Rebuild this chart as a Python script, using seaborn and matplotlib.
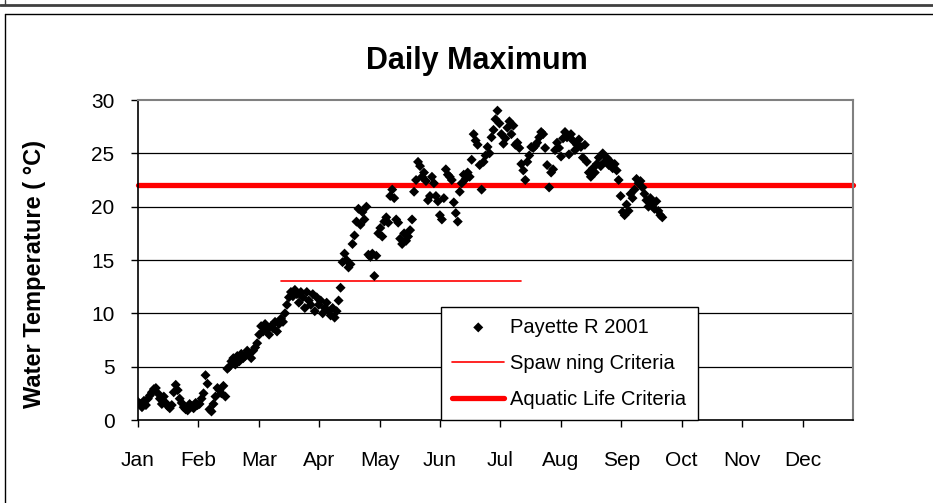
import numpy as np
import pandas as pd
import matplotlib
matplotlib.use('Agg')
import matplotlib.pyplot as plt
from matplotlib.lines import Line2D
import seaborn as sns

# daily maximum water temperature (deg C), Payette R 2001
jan_max = [1.7, 1.5, 1.2, 1.8, 1.4, 2.0, 2.3, 2.6, 2.9, 3.0, 2.5, 2.0, 1.5, 2.2, 1.6, 1.3,
           1.1, 1.4, 2.6, 3.3, 2.8, 2.0, 1.6, 1.2, 1.0, 0.9, 1.5, 1.3, 1.1, 1.6, 1.4]
feb_max = [1.5, 2.0, 2.5, 4.2, 3.4, 1.0, 0.8, 1.5, 2.2, 3.0, 2.8, 2.5, 3.2, 2.2, 4.8, 5.0,
           5.5, 5.8, 5.2, 6.0, 5.5, 6.2, 5.8, 6.0, 6.5, 6.2, 5.8, 6.5]
mar_max = [6.8, 7.2, 8.0, 8.8, 8.3, 9.0, 8.5, 8.0, 8.8, 8.6, 9.2, 8.3, 9.0, 9.5, 9.2, 10.0,
           10.8, 11.5, 12.0, 11.6, 12.2, 11.8, 11.0, 12.0, 11.5, 10.5, 12.0, 11.2, 10.8, 11.8, 10.2]
apr_max = [11.5, 10.8, 11.2, 10.0, 10.5, 11.0, 10.2, 9.8, 10.5, 9.6, 10.2, 11.2, 12.4, 14.8, 15.6,
           15.0, 14.3, 14.6, 16.5, 17.3, 18.6, 19.8, 18.3, 19.5, 18.8, 20.0, 15.5, 15.3, 15.6, 13.5]
may_max = [15.4, 17.5, 18.0, 17.2, 18.6, 19.0, 18.5, 21.0, 21.6, 20.8, 18.8, 18.5, 17.0, 16.5, 17.5,
           16.8, 17.2, 17.8, 18.8, 21.4, 22.5, 24.2, 23.8, 22.8, 23.2, 22.4, 20.6, 21.0, 22.8, 22.2, 21.0]
jun_max = [20.5, 19.2, 18.8, 20.8, 23.5, 23.0, 22.8, 22.5, 20.4, 19.4, 18.6, 21.4, 22.2, 23.0, 22.6,
           23.2, 22.8, 24.4, 26.8, 26.2, 25.8, 23.9, 21.6, 24.2, 24.8, 25.6, 25.0, 26.5, 27.2, 28.2]
jul_max = [29.0, 27.8, 26.8, 25.9, 26.4, 27.4, 28.0, 26.8, 27.6, 25.8, 26.0, 25.5, 24.0, 23.4, 22.5,
           24.2, 24.8, 25.6, 25.5, 25.7, 26.0, 26.5, 27.0, 26.8, 25.5, 23.9, 21.8, 23.2, 23.5, 25.3, 26.0]
aug_max = [25.5, 24.7, 26.4, 27.0, 26.5, 24.9, 26.8, 26.2, 25.3, 25.8, 26.3, 25.6, 24.6, 25.8, 24.2,
           23.2, 22.8, 23.6, 23.2, 24.0, 24.6, 23.8, 25.0, 24.2, 24.6, 23.9, 24.2, 23.6, 24.0, 23.4, 22.5]
sep_max = [21.0, 19.5, 19.2, 20.2, 19.6, 21.2, 20.8, 21.6, 22.6, 22.2, 22.4, 21.8, 21.2, 20.6, 20.0,
           20.8, 20.3, 19.8, 20.5, 19.6, 19.2, 19.0]

months = ['Jan', 'Feb', 'Mar', 'Apr', 'May', 'Jun', 'Jul', 'Aug', 'Sep', 'Oct', 'Nov', 'Dec']

# criteria
spawning_days = [72, 193]
spawning_temp = 13
aquatic_days = [0, 360]
aquatic_temp = 22

temps = jan_max + feb_max + mar_max + apr_max + may_max + jun_max + jul_max + aug_max + sep_max
df = pd.DataFrame({'day': np.arange(len(temps)), 'temp': temps})
spawn = pd.DataFrame({'day': spawning_days, 'temp': [spawning_temp] * 2})
aquatic = pd.DataFrame({'day': aquatic_days, 'temp': [aquatic_temp] * 2})

sns.set_theme(style='white')
plt.rcParams['font.family'] = ['Liberation Sans', 'DejaVu Sans']
plt.rcParams['text.color'] = 'black'
plt.rcParams['axes.labelcolor'] = 'black'
plt.rcParams['xtick.color'] = 'black'
plt.rcParams['ytick.color'] = 'black'

fig = plt.figure(figsize=(9.33, 5.03), dpi=100)
ax = fig.add_axes([138 / 933, 1 - 420 / 503, (853 - 138) / 933, 320 / 503])

sns.scatterplot(data=df, x='day', y='temp', marker='D', s=26, color='black',
                edgecolor='none', linewidth=0, ax=ax, label='Payette R 2001', zorder=3)
sns.lineplot(data=spawn, x='day', y='temp', color='#ff0000', linewidth=1.2, ax=ax,
             label='Spaw ning Criteria', zorder=2)
sns.lineplot(data=aquatic, x='day', y='temp', color='#ff0000', linewidth=3.8, ax=ax,
             label='Aquatic Life Criteria', zorder=2, clip_on=False)

ax.set_xlim(0, 360)
ax.set_ylim(0, 30)
ax.set_yticks(range(0, 31, 5))
ax.set_xticks(np.arange(12) * 365 / 12)
ax.set_xticklabels(months)
ax.tick_params(axis='both', which='both', direction='out', length=5, width=1,
               color='black', labelsize=15, left=True, bottom=True)
ax.tick_params(axis='y', pad=12)
ax.tick_params(axis='x', pad=17)

for yv in range(5, 30, 5):
    ax.axhline(yv, color='black', linewidth=0.9, zorder=1)

for side in ['left', 'bottom']:
    ax.spines[side].set_color('black')
    ax.spines[side].set_linewidth(1.2)
for side in ['top', 'right']:
    ax.spines[side].set_color('#808080')
    ax.spines[side].set_linewidth(1.5)

ax.set_xlabel('')
ax.set_ylabel('Water Temperature ( °C)', fontsize=17, fontweight='bold')
ax.yaxis.set_label_coords(-0.128, 0.456)
ax.set_title('Daily Maximum', fontsize=22, fontweight='bold', pad=22, x=0.474)

leg = ax.legend(loc='lower left', bbox_to_anchor=(303 / 715, 0.0), borderaxespad=0,
                frameon=True, fancybox=False, edgecolor='black', fontsize=14.5,
                handlelength=2.6, handletextpad=0.3, labelspacing=0.85,
                borderpad=0.55, framealpha=1)
leg.get_frame().set_linewidth(1.0)
leg.set_zorder(5)

# chart frames like the spreadsheet export
fig.add_artist(Line2D([0, 1], [1 - 4.5 / 503] * 2, color='#404040', linewidth=2))
fig.add_artist(Line2D([4.5 / 933] * 2, [1, 1 - 4.5 / 503], color='#404040', linewidth=1))
fig.add_artist(Line2D([4.5 / 933, 1], [1 - 13.5 / 503] * 2, color='black', linewidth=1))
fig.add_artist(Line2D([4.5 / 933] * 2, [0, 1 - 13.5 / 503], color='black', linewidth=1))

fig.savefig('out.png', dpi=100, facecolor='white')
